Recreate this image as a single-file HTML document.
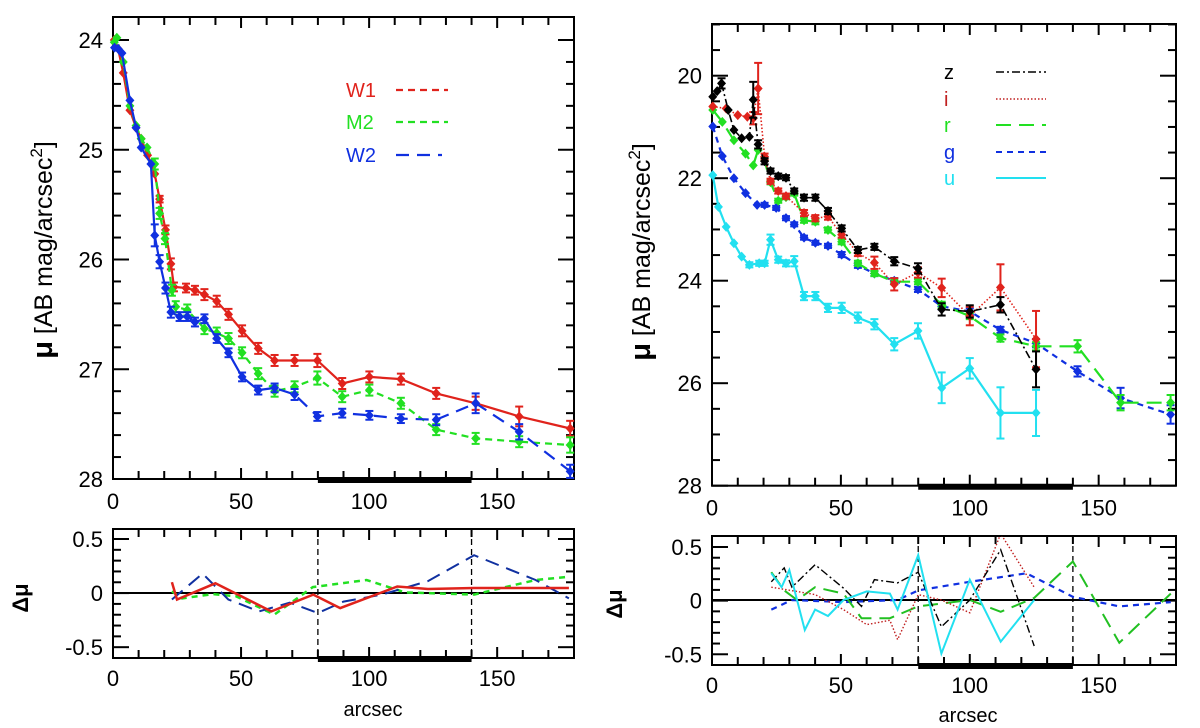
<!DOCTYPE html>
<html><head><meta charset="utf-8">
<style>
html,body{margin:0;padding:0;background:#fff;}
svg{display:block;font-family:"Liberation Sans",sans-serif;}
</style></head>
<body>
<svg id="fig" width="1200" height="728" viewBox="0 0 1200 728" xmlns="http://www.w3.org/2000/svg"></svg>
<script>
// ---------- LEFT MAIN (UV) DATA ----------
const w1X=[0.5,2,4,6.6,9,11,13.5,16.3,18.2,20.5,22.6,23.8,28.5,32,35.7,40.5,45.1,50.4,56.7,63.1,70.9,79.8,89.5,100.1,112.4,126.2,141.6,158.6,178.5];
const w1Y=[24.0,24.08,24.3,24.64,24.8,24.9,25.05,25.22,25.45,25.73,26.04,26.25,26.26,26.28,26.32,26.38,26.5,26.65,26.81,26.92,26.92,26.92,27.13,27.07,27.09,27.22,27.31,27.43,27.54];
const w1E=[0,0,0,0,0,0,0,0,0.03,0.04,0.05,0.04,0.04,0.04,0.05,0.05,0.05,0.05,0.05,0.05,0.05,0.06,0.05,0.05,0.05,0.05,0.06,0.09,0.07];
const m2X=[0.5,1.5,4,6.6,9,11,13.3,16.3,18.2,20.3,23,24.5,29,35.7,40.5,45.1,50.4,56.7,63.1,70.9,79.8,89.5,100.1,112.4,126.2,141.6,158.6,178.5];
const m2Y=[24.02,23.98,24.2,24.6,24.78,24.9,24.98,25.13,25.58,25.81,26.28,26.43,26.46,26.63,26.67,26.72,26.85,27.04,27.2,27.16,27.08,27.25,27.19,27.31,27.55,27.63,27.66,27.69];
const m2E=[0,0,0,0,0,0,0,0.05,0.05,0.05,0.05,0.05,0.05,0.05,0.05,0.05,0.05,0.05,0.05,0.05,0.06,0.05,0.05,0.05,0.05,0.05,0.05,0.07];
const w2X=[0.6,2,3.5,6.6,9,11,14.8,16.3,18.2,20.5,22.6,26,29,32,35.7,40.5,45.1,50.4,56.7,63.1,70.9,79.8,89.5,100.1,112.4,126.2,141.6,158.6,178.5];
const w2Y=[24.07,24.08,24.12,24.55,24.8,24.98,25.13,25.78,26.02,26.26,26.48,26.52,26.52,26.57,26.54,26.72,26.85,27.07,27.19,27.17,27.23,27.43,27.4,27.42,27.45,27.46,27.31,27.57,27.93];
const w2E=[0,0,0,0,0,0,0,0.1,0.06,0.05,0.05,0.04,0.04,0.04,0.04,0.04,0.04,0.04,0.04,0.04,0.05,0.04,0.04,0.04,0.04,0.05,0.09,0.07,0.06];
// ---------- LEFT RESIDUALS ----------
const rW1X=[23,25,40,61.8,78.2,88.7,111,123,141,178];
const rW1Y=[0.1,-0.06,0.09,-0.17,-0.015,-0.14,0.06,0.037,0.046,0.046];
const rM2X=[23,27,39,48,63,78,99,114,141,165,178];
const rM2Y=[0.015,-0.05,-0.01,-0.03,-0.2,0.055,0.12,0.006,-0.015,0.12,0.15];
const rW2X=[23,35,45,57,69,80,90,105,123,141,165,178];
const rW2Y=[-0.06,0.18,-0.06,-0.17,-0.09,-0.185,-0.08,-0.015,0.11,0.35,0.12,-0.05];
// ---------- RIGHT MAIN (optical) DATA ----------
const zX=[0.3,2,3.7,6.3,8.5,11.5,14.5,16,17.9,20.4,22.7,25.7,28.7,31.9,35.7,40.1,45,50.3,56.6,63,70.7,79.9,89.1,100,111.9,125.7];
const zY=[20.41,20.3,20.15,20.67,21.06,21.22,21.19,20.47,21.34,21.67,21.86,21.96,21.99,22.25,22.38,22.38,22.64,22.98,23.4,23.34,23.62,23.76,24.56,24.6,24.47,25.73];
const zE=[0,0,0.1,0,0,0,0,0.35,0.08,0.06,0.05,0.05,0.05,0.05,0.06,0.06,0.06,0.06,0.06,0.06,0.08,0.1,0.12,0.12,0.15,0.35];
const iX=[0.3,5.5,10,13.7,16,17.9,20.4,22.7,25.7,28.7,35.7,40.1,45,50.3,56.6,63,70.7,79.9,89.1,100,111.9,125.7];
const iY=[20.6,20.64,20.77,20.8,20.83,20.25,21.58,22.06,22.25,22.35,22.68,22.78,22.75,23.1,23.46,23.65,24.07,23.84,24.14,24.69,24.13,25.14];
const iE=[0,0,0,0,0.12,0.5,0.06,0.05,0.05,0.05,0.06,0.06,0.06,0.06,0.06,0.12,0.12,0.1,0.18,0.18,0.45,0.55];
const rX=[0.3,4,8.5,13,16,17.9,20.4,22.7,25.7,28.7,31.9,35.7,40.1,45,50.3,56.6,63,70.7,79.9,89.1,100,111.9,125.7,141.8,158.5,177.9];
const rY=[20.67,20.9,21.26,21.52,21.75,21.45,21.66,22.08,22.44,22.37,22.3,22.82,22.85,23.01,23.24,23.66,23.86,24.02,24.02,24.47,24.69,25.12,25.28,25.28,26.38,26.38];
const rE=[0,0,0,0,0,0,0,0.04,0.04,0.04,0.04,0.05,0.05,0.05,0.05,0.05,0.05,0.05,0.05,0.06,0.06,0.07,0.08,0.12,0.15,0.15];
const gX=[0.3,4,8.5,13,17.5,20.4,24.9,28.7,31.9,35.7,40.1,45,50.3,56.6,63,70.7,79.9,89.1,100,111.9,125.7,141.8,158.5,177.9];
const gY=[20.99,21.57,22.0,22.29,22.52,22.52,22.58,22.78,22.9,23.16,23.26,23.32,23.49,23.7,23.86,24.0,24.17,24.5,24.6,24.96,25.22,25.77,26.29,26.61];
const gE=[0,0,0,0,0,0.04,0.04,0.04,0.04,0.04,0.04,0.04,0.05,0.05,0.05,0.05,0.05,0.06,0.06,0.06,0.08,0.1,0.2,0.18];
const uX=[0.3,2.5,5.5,8.5,11.5,14.5,18.3,20.4,22.7,25.7,28.7,31.9,35.7,40.1,45,50.3,56.6,63,70.7,79.9,89.1,100,111.9,125.7];
const uY=[21.94,22.56,22.95,23.27,23.53,23.69,23.66,23.66,23.2,23.59,23.66,23.62,24.3,24.3,24.53,24.53,24.72,24.85,25.24,24.98,26.09,25.71,26.58,26.58];
const uE=[0,0,0,0,0,0.05,0.05,0.05,0.1,0.06,0.06,0.1,0.08,0.08,0.08,0.1,0.1,0.1,0.12,0.15,0.3,0.2,0.5,0.45];
// ---------- RIGHT RESIDUALS ----------
const rzX=[23,28,31,40,51,58,63,72,80,89,100,112,125];
const rzY=[0.17,0.3,0.12,0.33,0.11,-0.06,0.19,0.16,0.26,-0.25,0,0.47,-0.43];
const riX=[23,28,40,51,60,69,72,80,89,100,112,125];
const riY=[0.12,0.1,0.05,-0.09,-0.23,-0.19,-0.37,0.05,0,-0.12,0.62,0.12];
const rrX=[23,28,33,40,51,58,69,80,100,112,125,140,158,178];
const rrY=[0.26,0.09,0,0.12,0.06,-0.17,-0.17,-0.06,0,-0.11,0.02,0.36,-0.4,0.06];
const rgX=[23,31,51,72,80,100,122,140,158,178];
const rgY=[-0.09,0,-0.02,0,0.09,0.17,0.25,0.03,-0.06,-0.02];
const ruX=[23,27,30,36,40,45,51,60,69,72,80,89,100,112,125];
const ruY=[0.25,0.12,0.28,-0.28,-0.09,-0.15,0,0.08,0.06,-0.09,0.42,-0.5,0.19,-0.39,0];

const xTicks=[0,50,100,150];
const leftYTicks=[24,25,26,27,28];
const rightYTicks=[20,22,24,26,28];
const resTicks=[0.5,0,-0.5];

const NS="http://www.w3.org/2000/svg";
const svg=document.getElementById('fig');
function el(tag,attrs,parent){const e=document.createElementNS(NS,tag);for(const k in attrs)e.setAttribute(k,attrs[k]);(parent||svg).appendChild(e);return e;}

function makeAxes(p){
  const sx=v=>p.x0+(v-p.xmin)/(p.xmax-p.xmin)*(p.x1-p.x0);
  const sy=v=>p.y0+(v-p.ymin)/(p.ymax-p.ymin)*(p.y1-p.y0);
  const g=el('g',{});
  
  
  p.sx=sx;p.sy=sy;p.g=g;
  for(let v=p.xmin;v<=p.xmax+0.001;v+=10){
    const X=sx(v),L=(v%50===0)?11:8;
    el('line',{x1:X,y1:p.y1,x2:X,y2:p.y1-L,stroke:'#000','stroke-width':2},g);
    el('line',{x1:X,y1:p.yTop,x2:X,y2:p.yTop+L,stroke:'#000','stroke-width':2},g);
  }
  for(let k=0;;k++){const v=p.ymin+k*p.ystep; if((p.ymax>p.ymin&&v>p.ymax+1e-6)||(p.ymax<p.ymin&&v<p.ymax-1e-6))break;
    const Y=sy(v);if(Y<p.yTop-1||Y>p.y1+1)continue;
    const major=p.yTicks.some(t=>Math.abs(t-v)<1e-6),L=major?16:8;
    el('line',{x1:p.x0,y1:Y,x2:p.x0+L,y2:Y,stroke:'#000','stroke-width':2},g);
    el('line',{x1:p.x1,y1:Y,x2:p.x1-L,y2:Y,stroke:'#000','stroke-width':2},g);}
  el('rect',{x:p.x0,y:p.yTop,width:p.x1-p.x0,height:p.y1-p.yTop,fill:'none',stroke:'#000','stroke-width':2},g);
  const bar=el('line',{x1:sx(80),y1:p.y1+1,x2:sx(140),y2:p.y1+1,stroke:'#000','stroke-width':6},g);
  
  
  xTicks.forEach(t=>{const tx=el('text',{x:sx(t),y:p.y1+p.xlabOff,'text-anchor':'middle','font-size':22,fill:'#000'},g);tx.textContent=t;
    
    });
  p.yTicks.forEach(t=>{const tx=el('text',{x:p.x0-10,y:sy(t)+8,'text-anchor':'end','font-size':22,fill:'#000'},g);tx.textContent=p.fmt?p.fmt(t):t;
    
    });
  return p;
}
function series(p,xs,ys,es,color,dash,name,markers,w){
  const c=el('g',{},p.g);
  
  
  const pts=xs.map((x,i)=>p.sx(x).toFixed(1)+','+p.sy(ys[i]).toFixed(1)).join(' ');
  el('polyline',{points:pts,fill:'none',stroke:color,'stroke-width':w||2.2,'stroke-dasharray':dash||'none','clip-path':p.clip},c);
  if(markers){xs.forEach((x,i)=>{const X=p.sx(x),Y=p.sy(ys[i]);
    if(es&&es[i]>0){const a=p.sy(ys[i]-es[i]),b=p.sy(ys[i]+es[i]);
      el('line',{x1:X,y1:a,x2:X,y2:b,stroke:color,'stroke-width':2},c);
      el('line',{x1:X-4,y1:a,x2:X+4,y2:a,stroke:color,'stroke-width':2},c);
      el('line',{x1:X-4,y1:b,x2:X+4,y2:b,stroke:color,'stroke-width':2},c);}
    el('path',{d:`M${X} ${Y-5}L${X+4.5} ${Y}L${X} ${Y+5}L${X-4.5} ${Y}Z`,fill:color},c);});}
}
const defs=el('defs',{});
function clip(id,x,y,w,h){const cp=el('clipPath',{id},defs);el('rect',{x,y,width:w,height:h},cp);return `url(#${id})`;}

const LM=makeAxes({name:'uv-profile-panel',x0:113,x1:574,xmin:0,xmax:180,y0:40,y1:479,yTop:17,ymin:24,ymax:28,ystep:0.2,yTicks:leftYTicks,xlabOff:30});
LM.clip=clip('c1',113,17,461,462);
series(LM,w1X,w1Y,w1E,'#e0231c','none','series-w1',true);
series(LM,m2X,m2Y,m2E,'#22e022','7,5','series-m2',true);
series(LM,w2X.slice(0,19),w2Y.slice(0,19),w2E.slice(0,19),'#1030e0','none','series-w2-inner',true);
series(LM,w2X.slice(18),w2Y.slice(18),w2E.slice(18),'#1030e0','13,8','series-w2',true);

const RM=makeAxes({name:'optical-profile-panel',x0:712,x1:1176,xmin:0,xmax:180,y0:75.7,y1:485.7,yTop:24,ymin:20,ymax:28,ystep:0.5,yTicks:rightYTicks,xlabOff:30});
[19.5,19].forEach(v=>{const Y=RM.sy(v);if(Y>24){el('line',{x1:712,y1:Y,x2:720,y2:Y,stroke:'#000','stroke-width':2},RM.g);el('line',{x1:1176,y1:Y,x2:1168,y2:Y,stroke:'#000','stroke-width':2},RM.g);}});
RM.clip=clip('c2',712,24,464,462);
series(RM,gX,gY,gE,'#1030e0','6,5','series-g',true);
series(RM,rX,rY,rE,'#22e022','15,8','series-r',true);
series(RM,uX,uY,uE,'#22e0f0','none','series-u',true);
series(RM,iX,iY,iE,'#e0231c','1.5,2','series-i',true,1.6);
series(RM,zX,zY,zE,'#000','8,3,2,3','series-z',true,1.6);

const LR=makeAxes({name:'uv-residual-panel',x0:113,x1:574,xmin:0,xmax:180,y0:539,y1:658,yTop:529,ymin:0.5,ymax:-0.6,ystep:-0.1,yTicks:resTicks,xlabOff:28,fmt:v=>v===0?'0':v});
LR.sy=v=>593-v*108;
LR.clip=clip('c3',113,529,461,129);
const RR=makeAxes({name:'optical-residual-panel',x0:712,x1:1176,xmin:0,xmax:180,y0:547,y1:665,yTop:536,ymin:0.5,ymax:-0.6,ystep:-0.1,yTicks:resTicks,xlabOff:28,fmt:v=>v===0?'0':v});
RR.sy=v=>600-v*107;
RR.clip=clip('c4',712,536,464,129);

[LR,RR].forEach(p=>{
  el('line',{x1:p.x0,y1:p.sy(0),x2:p.x1,y2:p.sy(0),stroke:'#000','stroke-width':2},p.g);
  [80,140].forEach(v=>el('line',{x1:p.sx(v),y1:p.yTop,x2:p.sx(v),y2:p.y1,stroke:'#000','stroke-width':1.3,'stroke-dasharray':'6,4'},p.g));
});
series(LR,rM2X,rM2Y,null,'#22e022','6,5','resid-m2',false,2.5);
series(LR,rW2X,rW2Y,null,'#1030a0','14,8','resid-w2',false,2);
series(LR,rW1X,rW1Y,null,'#e0231c','none','resid-w1',false,2.5);
series(RR,rgX,rgY,null,'#1030e0','6,5','resid-g',false,2.2);
series(RR,rrX,rrY,null,'#22c022','15,8','resid-r',false,2);
series(RR,riX,riY,null,'#c02020','1.5,2','resid-i',false,1.4);
series(RR,rzX,rzY,null,'#000','8,3,2,3','resid-z',false,1.4);
series(RR,ruX,ruY,null,'#22e0f0','none','resid-u',false,2);

function txt(s,attrs,name){const t=el('text',attrs);t.textContent=s;return t;}
function ytitle(x,y,name){const t=el('text',{transform:`translate(${x},${y}) rotate(-90)`,'text-anchor':'middle','font-size':25});
 
 t.innerHTML='<tspan font-weight="bold" font-size="29">μ</tspan> [AB mag/arcsec<tspan dy="-10" font-size="17">2</tspan><tspan dy="10">]</tspan>';}
ytitle(52,250,'y-axis-title-left');
ytitle(650,252,'y-axis-title-right');
txt('Δμ',{transform:'translate(28,598) rotate(-90)','text-anchor':'middle','font-size':22,'font-weight':'bold'},'residual-axis-title-left');
txt('Δμ',{transform:'translate(622,604) rotate(-90)','text-anchor':'middle','font-size':22,'font-weight':'bold'},'residual-axis-title-right');
txt('arcsec',{x:373,y:716,'text-anchor':'middle','font-size':20},'x-axis-title-left');
txt('arcsec',{x:968,y:722,'text-anchor':'middle','font-size':20},'x-axis-title-right');

function leg(label,x,y,lx1,lx2,color,dash,w,name){
  const g=el('g',{});
  const t=el('text',{x,y:y+7,'font-size':20,fill:color},g);t.textContent=label;
  el('line',{x1:lx1,y1:y,x2:lx2,y2:y,stroke:color,'stroke-width':w,'stroke-dasharray':dash},g);}
leg('W1',346,90,396,448,'#e0231c','7,5',2.2,'legend-w1');
leg('M2',346,122,396,448,'#22e022','7,5',2.2,'legend-m2');
leg('W2',346,155,396,442,'#1030e0','13,8',2.2,'legend-w2');
leg('z',944,72,996,1046,'#000','8,3,2,3',1.6,'legend-z');
leg('i',944,99,996,1046,'#c02020','1.5,2',1.4,'legend-i');
leg('r',944,125,996,1046,'#22e022','15,8',2,'legend-r');
leg('g',944,152,996,1046,'#1030e0','6,5',2,'legend-g');
leg('u',944,178,996,1046,'#22e0f0','none',2,'legend-u');
</script>
</body></html>
